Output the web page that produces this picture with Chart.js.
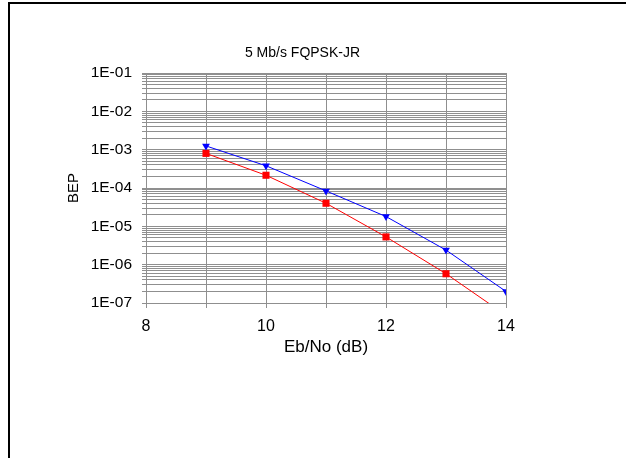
<!DOCTYPE html>
<html>
<head>
<meta charset="utf-8">
<script src="https://cdn.jsdelivr.net/npm/chart.js"></script>
<style>
  html, body { margin: 0; padding: 0; background: #fff; overflow: hidden; }
  #wrap { position: relative; width: 626px; height: 458px; }
  #frame {
    position: absolute; left: 8px; top: 2px; right: -10px; bottom: -10px;
    border-top: 2px solid #000; border-left: 2px solid #000;
  }
  canvas { position: absolute; left: 0; top: 0; }
</style>
</head>
<body>
<div id="wrap">
  <div id="frame"></div>
  <canvas id="bep-chart" width="626" height="458"></canvas>
</div>
<script>
const chartTitle = '5 Mb/s FQPSK-JR';
const ebNo = [9, 10, 11, 12, 13, 14];
const bepUpper = [1.25e-3, 3.8e-4, 8.4e-5, 1.8e-5, 2.4e-6, 2.0e-7];
const bepLower = [8.0e-4, 2.15e-4, 4.0e-5, 5.3e-6, 5.8e-7, 4.8e-8];
const yTickLabels = ['1E-07', '1E-06', '1E-05', '1E-04', '1E-03', '1E-02', '1E-01'];
const xTickLabels = ['8', '10', '12', '14'];

const font = 'Liberation Sans, Arial, sans-serif';
const gridGray = '#8f8f8f';

// title sits left of the plot centre in the original, so draw it by hand
const titlePlugin = {
  id: 'offsetTitle',
  afterDraw(chart) {
    const c = chart.ctx;
    c.save();
    c.font = '14px ' + font;
    c.fillStyle = '#000';
    c.textAlign = 'center';
    c.textBaseline = 'middle';
    c.fillText(chartTitle, 302.5, 53);
    c.restore();
  }
};

const ctx = document.getElementById('bep-chart').getContext('2d');
new Chart(ctx, {
  type: 'line',
  data: {
    labels: ebNo,
    datasets: [{
      label: 'upper',
      data: ebNo.map((x, i) => ({ x: x, y: bepUpper[i] })),
      borderColor: '#0000ff',
      backgroundColor: '#0000ff',
      borderWidth: 1,
      pointStyle: 'triangle',
      rotation: 180,
      pointRadius: 4.5,
      pointBorderWidth: 0,
      tension: 0
    }, {
      label: 'lower',
      data: ebNo.map((x, i) => ({ x: x, y: bepLower[i] })),
      borderColor: '#ff0000',
      backgroundColor: '#ff0000',
      borderWidth: 1,
      pointStyle: 'rect',
      pointRadius: 5,
      pointBorderWidth: 0,
      tension: 0
    }]
  },
  options: {
    responsive: false,
    animation: false,
    layout: {
      padding: { left: 60, right: 120, top: 73, bottom: 96.8 }
    },
    plugins: {
      legend: { display: false },
      tooltip: { enabled: false },
      title: { display: false }
    },
    scales: {
      x: {
        type: 'linear',
        min: 8,
        max: 14,
        ticks: {
          stepSize: 1,
          padding: 9,
          color: '#000',
          font: { family: font, size: 16 },
          maxRotation: 0,
          autoSkip: false,
          callback: function(value) {
            const s = String(value);
            return xTickLabels.includes(s) ? s : '';
          }
        },
        grid: { color: gridGray, lineWidth: 1, tickLength: 5 },
        border: { color: gridGray, width: 1 },
        title: {
          display: true,
          text: 'Eb/No (dB)',
          color: '#000',
          font: { family: font, size: 17 },
          padding: { top: 4, bottom: 4 }
        },
        afterFit: function(scale) { scale.height = 58.2; }
      },
      y: {
        type: 'logarithmic',
        min: 1e-7,
        max: 1e-1,
        afterBuildTicks: function(scale) {
          const ticks = [];
          for (let e = -7; e < -1; e++) {
            for (let m = 1; m <= 9; m++) {
              ticks.push({ value: parseFloat((m * Math.pow(10, e)).toPrecision(3)) });
            }
          }
          ticks.push({ value: 1e-1 });
          scale.ticks = ticks;
        },
        ticks: {
          padding: 10,
          color: '#000',
          font: { family: font, size: 15.5 },
          autoSkip: false,
          callback: function(value) {
            const lg = Math.log10(value);
            const k = Math.round(lg);
            if (Math.abs(lg - k) > 1e-6) return '';
            return yTickLabels[k + 7] || '';
          }
        },
        grid: { color: gridGray, lineWidth: 1, tickLength: 4 },
        border: { color: gridGray, width: 1 },
        title: {
          display: true,
          text: 'BEP',
          color: '#000',
          font: { family: font, size: 15 },
          padding: { top: 4.5, bottom: 0 }
        },
        afterFit: function(scale) { scale.width = 86; }
      }
    }
  },
  plugins: [titlePlugin]
});
</script>
</body>
</html>
